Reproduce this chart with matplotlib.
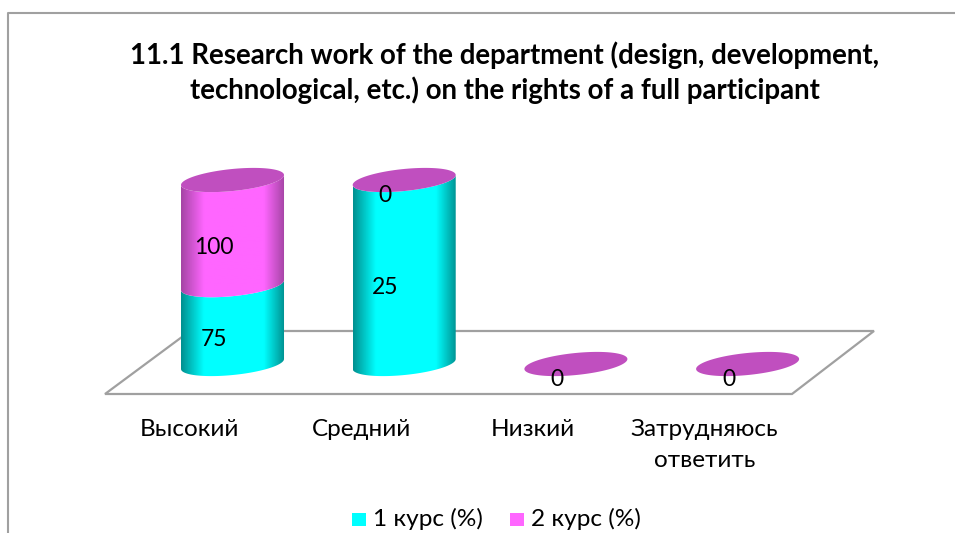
#!/usr/bin/env python3
import numpy as np
import matplotlib
matplotlib.use("Agg")
import matplotlib.pyplot as plt
from matplotlib.colors import LinearSegmentedColormap
from matplotlib.patches import PathPatch, Polygon, Rectangle
from matplotlib.path import Path

plt.rcParams["font.family"] = ["Lato", "Noto Sans", "DejaVu Sans"]

TITLE = ("11.1 Research work of the department (design, development,\n"
         "technological, etc.) on the rights of a full participant")
categories = ["Высокий", "Средний", "Низкий", "Затрудняюсь\nответить"]
series_names = ["1 курс (%)", "2 курс (%)"]
course_1 = [75, 25, 0, 0]
course_2 = [100, 0, 0, 0]

W, H = 955, 533
PX_X = 171.7   # pixels per category
PX_Y = 1.84    # pixels per percent
X0, Y0 = 232.5, 364
RADIUS = 0.30
RY = 6.0
SHEAR = 2.7

CYAN = "#00FFFF"
MAGENTA = "#FF66FF"
TOP = "#C04FBF"
GRAY = "#A0A0A0"


def shade(color, dark):
    return LinearSegmentedColormap.from_list(
        "side", [(0, dark), (0.22, color), (0.8, color), (1, dark)])


def ellipse_xy(cx, cy, t):
    return cx + RADIUS * np.cos(t), cy + SHEAR * np.cos(t) + RY * np.sin(t)


def draw_side(ax, cx, y0, y1, cmap, z):
    t = np.linspace(np.pi, 2 * np.pi, 60)
    bx, by = ellipse_xy(cx, y0, t)
    tx, ty = ellipse_xy(cx, y1, t[::-1])
    pts = np.vstack([np.c_[bx, by], np.c_[tx, ty], [[bx[0], by[0]]]])
    patch = PathPatch(Path(pts), fc="none", ec="none", transform=ax.transData)
    ax.add_patch(patch)
    grad = np.linspace(0, 1, 200).reshape(1, -1)
    im = ax.imshow(grad, cmap=cmap, aspect="auto", zorder=z, interpolation="bilinear",
                   extent=(cx - RADIUS, cx + RADIUS, y0 - 20, y1 + 20))
    im.set_clip_path(patch)


def draw_top(ax, cx, y, z):
    t = np.linspace(0, 2 * np.pi, 120)
    x, yy = ellipse_xy(cx, y, t)
    ax.add_patch(Polygon(np.c_[x, yy], closed=True, fc=TOP, ec="none", zorder=z))


def label(ax, i, y, val):
    ax.annotate(str(val), (i, y), xytext=(-19, -15), textcoords="offset pixels",
                ha="center", va="center", fontsize=16.5, color="black", zorder=10)


def main():
    fig = plt.figure(figsize=(W / 100, H / 100), dpi=100, facecolor="white")
    ax = fig.add_axes([0, 0, 1, 1])
    ax.axis("off")

    to_fig = lambda x, y: (x / W, 1 - y / H)
    fig.add_artist(plt.Line2D(*zip(to_fig(8, 533), to_fig(8, 13), to_fig(955, 13)),
                              color=GRAY, lw=1.5))
    floor = [to_fig(105, 394), to_fig(792, 394), to_fig(874, 331), to_fig(190, 331)]
    ax.add_patch(Polygon(floor, closed=True, fc="white", ec=GRAY, lw=1.6, zorder=1,
                         transform=fig.transFigure))

    cmap1 = shade(CYAN, "#009090")
    cmap2 = shade(MAGENTA, "#A545A5")
    for i, (a, b) in enumerate(zip(course_1, course_2)):
        total = a + b
        share1 = 100 * a / total if total else 0
        share2 = 100 * b / total if total else 0
        if share1 > 0:
            draw_side(ax, i, 0, share1, cmap1, 2 + i)
            label(ax, i, share1 / 2, a)
        if share2 > 0:
            draw_side(ax, i, share1, share1 + share2, cmap2, 2 + i + 0.1)
        draw_top(ax, i, share1 + share2, 2 + i + 0.2)
        label(ax, i, share1 + share2 / 2, b)
        ax.text(i - 0.25, -30, categories[i], ha="center", va="top", fontsize=17.5,
                linespacing=1.6, color="black", zorder=10)

    ax.set_xlim(-X0 / PX_X, (W - X0) / PX_X)
    ax.set_ylim((Y0 - H) / PX_Y, Y0 / PX_Y)

    fig.text(505 / W, 1 - 73 / H, TITLE, ha="center", va="center", fontsize=19.9,
             fontweight="bold", linespacing=1.32)

    for x, col, name in ((352, CYAN, series_names[0]), (510, MAGENTA, series_names[1])):
        fig.add_artist(Rectangle((x / W, 1 - 526 / H), 14 / W, 13 / H, fc=col, ec="none",
                                 transform=fig.transFigure))
        fig.text((x + 21) / W, 1 - 519 / H, name, ha="left", va="center", fontsize=17.6)

    fig.savefig("out.png", dpi=100)
    plt.close(fig)


if __name__ == "__main__":
    main()
